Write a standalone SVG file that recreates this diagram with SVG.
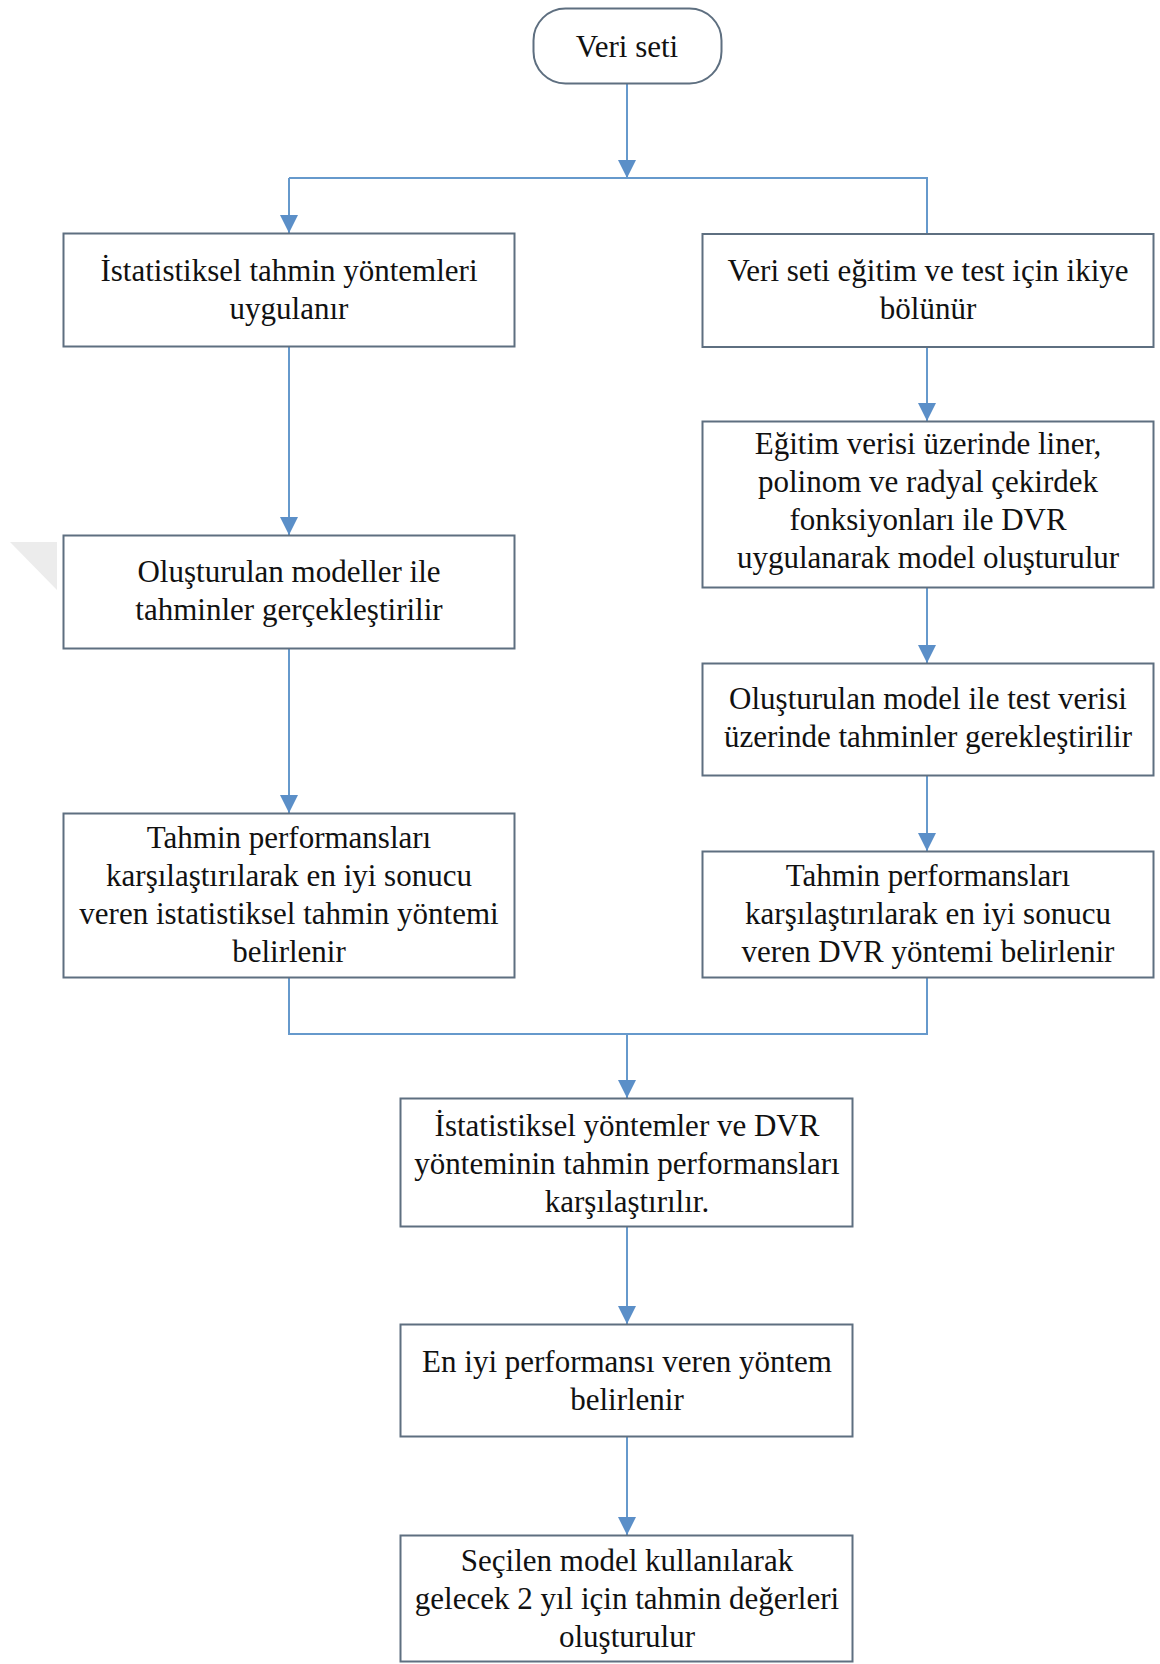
<svg xmlns="http://www.w3.org/2000/svg" width="1160" height="1664" viewBox="0 0 1160 1664">
<style>
.box{fill:#ffffff;stroke:#5e6f80;stroke-width:2}
.sh{fill:none;stroke:#cfdcea;stroke-width:2}
.t{font-family:"Liberation Serif","Times New Roman",serif;font-size:31px;fill:#111111;text-anchor:middle}
.c{fill:none;stroke:#6699cc;stroke-width:2}
</style>
<defs>
<marker id="ah" markerUnits="userSpaceOnUse" markerWidth="18" markerHeight="18" refX="18" refY="9" orient="auto">
<path d="M0,0 L18,9 L0,18 z" fill="#5b8fc8"/>
</marker>
</defs>
<rect width="1160" height="1664" fill="#ffffff"/>
<polygon points="10,542 57,542 57,590" fill="#ececec"/>
<g id="connectors">
<line class="c" x1="627" y1="84" x2="627" y2="178" marker-end="url(#ah)"/>
<polyline class="c" points="289,178 927,178 927,234"/>
<line class="c" x1="289" y1="178" x2="289" y2="233" marker-end="url(#ah)"/>
<line class="c" x1="289" y1="347" x2="289" y2="535" marker-end="url(#ah)"/>
<line class="c" x1="289" y1="648" x2="289" y2="813" marker-end="url(#ah)"/>
<line class="c" x1="927" y1="348" x2="927" y2="421" marker-end="url(#ah)"/>
<line class="c" x1="927" y1="587" x2="927" y2="663" marker-end="url(#ah)"/>
<line class="c" x1="927" y1="776" x2="927" y2="851" marker-end="url(#ah)"/>
<polyline class="c" points="289,978 289,1034 927,1034 927,978"/>
<line class="c" x1="627" y1="1034" x2="627" y2="1098" marker-end="url(#ah)"/>
<line class="c" x1="627" y1="1227" x2="627" y2="1324" marker-end="url(#ah)"/>
<line class="c" x1="627" y1="1437" x2="627" y2="1535" marker-end="url(#ah)"/>
</g>
<g id="n0">
<rect class="box" x="533.5" y="8.5" width="188" height="75" rx="32" ry="32"/>
<text class="t" x="627" y="57">Veri seti</text>
</g>
<g id="n1">
<rect class="box" x="63.5" y="233.5" width="451" height="113"/>
<text class="t" x="289" y="281">İstatistiksel tahmin yöntemleri</text>
<text class="t" x="289" y="319">uygulanır</text>
</g>
<g id="n2">
<rect class="box" x="702.5" y="234" width="451" height="113"/>
<text class="t" x="928" y="281">Veri seti eğitim ve test için ikiye</text>
<text class="t" x="928" y="319">bölünür</text>
</g>
<g id="n3">
<rect class="box" x="702.5" y="421.5" width="451" height="166"/>
<text class="t" x="928" y="454">Eğitim verisi üzerinde liner,</text>
<text class="t" x="928" y="492">polinom ve radyal çekirdek</text>
<text class="t" x="928" y="530">fonksiyonları ile DVR</text>
<text class="t" x="928" y="568">uygulanarak model oluşturulur</text>
</g>
<g id="n4">
<rect class="box" x="63.5" y="535.5" width="451" height="113"/>
<text class="t" x="289" y="582">Oluşturulan modeller ile</text>
<text class="t" x="289" y="620">tahminler gerçekleştirilir</text>
</g>
<g id="n5">
<rect class="box" x="702.5" y="663.5" width="451" height="112"/>
<text class="t" x="928" y="709">Oluşturulan model ile test verisi</text>
<text class="t" x="928" y="747">üzerinde tahminler gerekleştirilir</text>
</g>
<g id="n6">
<rect class="box" x="63.5" y="813.5" width="451" height="164"/>
<text class="t" x="289" y="848">Tahmin performansları</text>
<text class="t" x="289" y="886">karşılaştırılarak en iyi sonucu</text>
<text class="t" x="289" y="924">veren istatistiksel tahmin yöntemi</text>
<text class="t" x="289" y="962">belirlenir</text>
</g>
<g id="n7">
<rect class="box" x="702.5" y="851.5" width="451" height="126"/>
<text class="t" x="928" y="886">Tahmin performansları</text>
<text class="t" x="928" y="924">karşılaştırılarak en iyi sonucu</text>
<text class="t" x="928" y="962">veren DVR yöntemi belirlenir</text>
</g>
<g id="n8">
<rect class="box" x="400.5" y="1098.5" width="452" height="128"/>
<text class="t" x="627" y="1136">İstatistiksel yöntemler ve DVR</text>
<text class="t" x="627" y="1174">yönteminin tahmin performansları</text>
<text class="t" x="627" y="1212">karşılaştırılır.</text>
</g>
<g id="n9">
<rect class="box" x="400.5" y="1324.5" width="452" height="112"/>
<text class="t" x="627" y="1372">En iyi performansı veren yöntem</text>
<text class="t" x="627" y="1410">belirlenir</text>
</g>
<g id="n10">
<rect class="box" x="400.5" y="1535.5" width="452" height="126"/>
<text class="t" x="627" y="1571">Seçilen model kullanılarak</text>
<text class="t" x="627" y="1609">gelecek 2 yıl için tahmin değerleri</text>
<text class="t" x="627" y="1647">oluşturulur</text>
</g>
</svg>
